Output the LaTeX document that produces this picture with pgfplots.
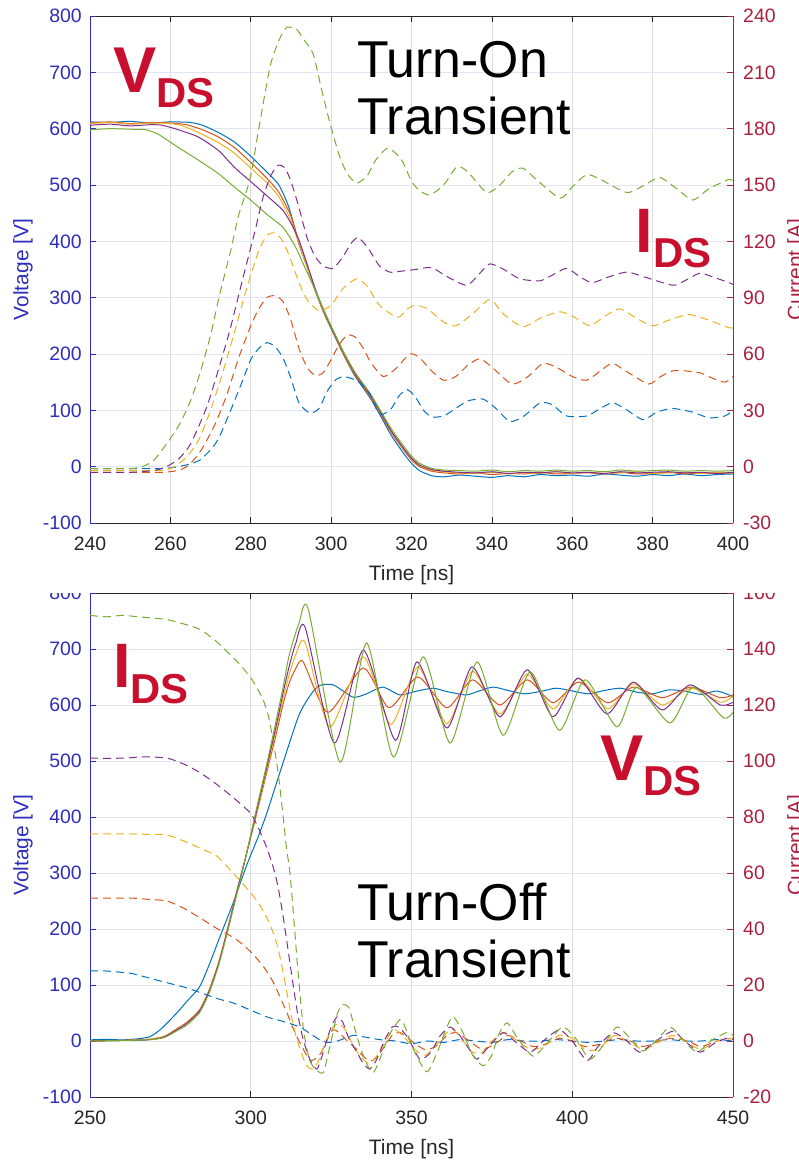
\documentclass[border=0pt]{standalone}
\usepackage{fontspec}
\setmainfont{Liberation Sans}
\usepackage{pgfplots}
\pgfplotsset{compat=1.18}
\definecolor{vblue}{RGB}{45,45,190}
\definecolor{ired}{RGB}{172,32,62}
\definecolor{mblue}{RGB}{0,114,189}
\definecolor{morange}{RGB}{217,83,25}
\definecolor{myellow}{RGB}{237,177,32}
\definecolor{mpurple}{RGB}{126,47,142}
\definecolor{mgreen}{RGB}{119,172,48}
\definecolor{anno}{RGB}{200,16,46}
\definecolor{axgray}{RGB}{38,38,38}
\newcommand\tfont{\fontsize{19.5}{20}\selectfont}
\newcommand\lfont{\fontsize{21}{22}\selectfont}
\newcommand\bigV{\fontsize{65}{65}\selectfont\bfseries}
\newcommand\subDS{\fontsize{42}{42}\selectfont\bfseries}
\newcommand\ttl{\fontsize{52}{52}\selectfont}

\pgfplotsset{
  xpanel/.style={scale only axis, anchor=south west,
    axis x line*=box, axis y line=none, ytick=\empty,
    xmajorgrids, major grid style={draw=black!13, line width=0.6bp},
    tick style={draw=axgray, line width=0.6bp}, major tick length=6bp,
    x axis line style={draw=axgray, line width=0.7bp},
    xticklabel style={text=axgray, font=\tfont, inner sep=0pt, anchor=north, yshift=-14bp},
    xlabel style={text=axgray, font=\lfont, inner sep=0pt, anchor=north,
      at={([yshift=-42bp]axis description cs:0.5,0)}}},
  lpanel/.style={scale only axis, anchor=south west,
    axis x line=none, axis y line*=left, xtick=\empty,
    ymajorgrids, major grid style={draw=vblue!13, line width=0.6bp},
    extra y tick style={grid=none},
    tick style={draw=vblue, line width=0.6bp}, major tick length=6bp,
    y axis line style={draw=vblue, line width=0.8bp},
    yticklabel style={text=vblue, font=\tfont, inner sep=0pt, anchor=east, xshift=-8bp},
    ylabel style={text=vblue, font=\lfont, inner sep=0pt, anchor=north,
      at={([xshift=-77bp]axis description cs:0,0.5)}},
    ymin=-100, ymax=800, ytick={0,100,200,300,400,500,600,700},
    yticklabels={0,100,200,300,400,500,600,700},
    extra y ticks={-100,800}, extra y tick labels={-100,800},
    ylabel={Voltage [V]}},
  rpanel/.style={scale only axis, anchor=south west,
    axis x line=none, axis y line*=right, xtick=\empty,
    tick style={draw=ired, line width=0.6bp}, major tick length=6bp,
    y axis line style={draw=ired, line width=0.8bp},
    yticklabel style={text=ired, font=\tfont, inner sep=0pt, anchor=west, xshift=10bp},
    ylabel style={text=ired, font=\lfont, inner sep=0pt, anchor=north,
      at={([xshift=54bp]axis description cs:1,0.5)}},
    ylabel={Current [A]}},
  vs/.style={line width=1.0bp, smooth, tension=0.4},
  cs/.style={line width=1.0bp, smooth, tension=0.4, dash pattern=on 8bp off 5bp},
}

\begin{document}
\begin{tikzpicture}
\path[use as bounding box] (0,0) rectangle (799bp,1161bp);

% ===================== TOP: turn-on =====================
\begin{axis}[xpanel, at={(90bp,638bp)}, width=643bp, height=507bp,
  xmin=240, xmax=400, ymin=-100, ymax=800,
  xtick={240,260,280,300,320,340,360,380,400},
  xticklabels={240,260,280,300,320,340,360,380,400},
  xlabel={Time [ns]}]
\end{axis}

\begin{axis}[lpanel, at={(90bp,638bp)}, width=643bp, height=507bp,
  xmin=240, xmax=400]
\addplot[vs, mblue] coordinates {(240,612)(245,611)(250,613)(255,610)(260,612)(265,611)(268,606)(272,593)(276,576)(280,551)(284,523)(287,500)(289.5,460)(292,395)(294,355)(296,313)(298,276)(300,245)(303,200)(306,160)(309.7,122)(312,94)(315,55)(318,24)(320,6)(322,-7)(325,-16)(328,-18)(332,-15)(336,-17)(340,-19)(344,-16)(348,-18)(352,-14)(356,-16)(360,-15)(364,-17)(368,-13)(372,-15)(376,-17)(380,-14)(384,-16)(388,-13)(392,-16)(396,-14)(400,-13)};
\addplot[vs, morange] coordinates {(240,610)(245,612)(250,609)(255,611)(260,610)(264,607)(268,598)(272,585)(276,566)(280,540)(284,512)(287,487)(290,445)(292,398)(294,356)(296,314)(298,277)(300,246)(303,201)(306,162)(309.7,124)(312,97)(315,60)(318,30)(320,12)(322,0)(325,-8)(328,-11)(332,-13)(336,-11)(340,-14)(344,-12)(348,-13)(352,-10)(356,-13)(360,-12)(364,-11)(368,-13)(372,-10)(376,-13)(380,-12)(384,-10)(388,-13)(392,-11)(396,-12)(400,-11)};
\addplot[vs, myellow] coordinates {(240,609)(245,611)(250,608)(255,610)(260,609)(263,605)(267,593)(272,575)(276,556)(280,530)(284,504)(287,479)(290,437)(292,396)(294,355)(296,314)(298,278)(300,247)(303,203)(306,164)(309.7,126)(312,99)(315,62)(318,32)(320,14)(322,2)(325,-6)(328,-9)(332,-11)(336,-12)(340,-10)(344,-13)(348,-11)(352,-12)(356,-9)(360,-12)(364,-10)(368,-12)(372,-11)(376,-9)(380,-12)(384,-11)(388,-10)(392,-12)(396,-10)(400,-11)};
\addplot[vs, mpurple] coordinates {(240,606)(245,608)(250,605)(255,607)(258,606)(262,598)(267,585)(272,561)(276,531)(280,506)(284,481)(288,455)(290,432)(292,402)(294,360)(296,317)(298,280)(300,248)(303,204)(306,165)(309.7,127)(312,100)(315,63)(318,33)(320,15)(322,3)(325,-5)(328,-8)(332,-10)(336,-11)(340,-9)(344,-12)(348,-10)(352,-11)(356,-9)(360,-11)(364,-10)(368,-12)(372,-9)(376,-11)(380,-10)(384,-9)(388,-11)(392,-10)(396,-12)(400,-10)};
\addplot[vs, mgreen] coordinates {(240,598)(245,600)(250,599)(254,598)(257,590)(260,576)(263,562)(267,544)(272,520)(276,496)(280,473)(284,448)(288,425)(291,392)(293,361)(296,314)(298,281)(300,250)(303,205)(306,167)(309.7,130)(312,103)(315,67)(318,37)(320,19)(322,6)(325,-3)(328,-6)(332,-7)(336,-8)(340,-6)(344,-9)(348,-7)(352,-8)(356,-6)(360,-8)(364,-7)(368,-9)(372,-6)(376,-8)(380,-7)(384,-6)(388,-8)(392,-7)(396,-8)(400,-7)};
\node[anchor=base west, inner sep=0pt, text=anno, font=\bigV] at (axis cs:245.7,665) {V\raisebox{-15bp}{\subDS DS}};
\node[anchor=base west, inner sep=0pt, text=anno, font=\fontsize{63}{63}\selectfont\bfseries] at (axis cs:375.8,381) {I\raisebox{-15bp}{\subDS DS}};
\node[anchor=base west, inner sep=0pt, font=\ttl] at (axis cs:306.4,690) {Turn-On};
\node[anchor=base west, inner sep=0pt, font=\ttl] at (axis cs:306.4,589) {Transient};
\end{axis}

\begin{axis}[rpanel, at={(90bp,638bp)}, width=643bp, height=507bp,
  xmin=240, xmax=400, ymin=-30, ymax=240,
  ytick={-30,0,30,60,90,120,150,180,210,240},
  yticklabels={-30,0,30,60,90,120,150,180,210,240}]
\addplot[cs, mblue] coordinates {(240,-1)(250,-1)(258,-1)(262,0)(265,1.5)(267.4,3.6)(270,9)(272,15)(275,30)(278,46)(280,57)(282,63)(284,66)(286,64)(288,58)(290,47)(292,34)(294.7,28.5)(297,31)(299,40)(301,46)(303,48)(305,47)(307,45)(309.6,39)(311.6,29)(313,28)(315,31)(317,38)(319,41)(321,37)(323,30)(325,26.5)(328,27)(331,31)(334,35)(337.8,36)(341,31)(344.5,24)(348,27)(352,34)(355,33)(358.6,27)(363.6,27)(367,31)(370,34)(373,31)(377.6,25)(381,29)(385,31)(390,29)(394,26)(398,27)(400,30)};
\addplot[cs, morange] coordinates {(240,-3)(250,-3)(258,-3)(262,-2)(264,0)(266,4)(268,10)(271,22)(274,38)(277,58)(280,75)(282,84)(284,90)(286,91)(288,88)(290,78)(292,63)(294,53)(296,48.6)(298,50)(300,57)(302,65)(304,70)(306,69)(308,63)(310,55)(313,48)(316,52)(319.6,60)(322,58)(325,51)(328,46)(331,48)(334,54)(337,57.5)(340,53)(345,44)(349,48)(352.7,55)(356,53)(360,48)(363.6,46)(367,51)(370,55)(374,50)(379,44)(382,48)(385,51)(388,51)(391.7,50)(395,47)(398,45)(400,48)};
\addplot[cs, myellow] coordinates {(240,-2)(250,-2)(258,-2)(261,0)(264,5)(267,14)(270,30)(273,50)(276,72)(279,95)(282,115)(284,123)(286,124.5)(288,120)(290,110)(292,98)(294,89)(297,83)(300,86)(303,95)(306.4,100)(309,96)(312,86)(316.5,79.5)(319,84)(321,86)(324,84)(328,77)(331,75)(335,81)(339.5,89)(343,81)(347.7,74.5)(352,79)(357,82.5)(361,79)(364.4,75)(368,80)(371.8,84)(376,79)(380,75)(384,78)(389,81)(394,78)(399,74)(400,74)};
\addplot[cs, mpurple] coordinates {(240,-3)(250,-3)(256,-2)(259,0)(262,4)(265,12)(269,31.5)(272,52)(274.8,72.7)(278,100)(281,125)(283,143)(285,155)(286.8,160.5)(288.5,159)(290,152)(292,138)(294,122)(296,112)(298,107)(300.5,105.6)(303,112)(305,119)(306.7,122)(309,117)(312,107)(314.6,103.6)(317,104)(321,105)(325,106)(329,101)(333.8,96.6)(337,103)(339.5,108)(343,105)(347,100)(352,99)(355,102)(358.6,105.6)(362,101)(365,98)(369,101)(373.6,103.6)(378,101)(385,96.6)(388,99)(391.7,103)(395,101)(399,98)(400,97)};
\addplot[cs, mgreen] coordinates {(240,-1)(250,-1)(253,0)(255.7,3)(258,9)(260,15)(262.4,23)(265,35)(267.4,50)(270,70)(272.3,92)(275,115)(277,134)(279.8,153)(282,180)(284.8,213)(287,227)(289,234)(291.5,232.6)(293,228)(295.5,220)(297.5,202)(299.7,183)(302,166)(304,156)(306.4,151)(309,155)(311,163)(313.9,169.5)(316,167)(317.9,162)(320,152)(322,147)(324.6,144.7)(328,150)(331.3,159.7)(334,157)(338.7,146)(342,150)(345,157)(347.7,159)(351,153)(357,143)(360,149)(363.6,155.5)(367,153)(373.6,146)(378,150)(381.8,154)(386,148)(390,142)(394,148)(399,153)(400,152)};
\end{axis}

% ===================== BOTTOM: turn-off =====================
\begin{axis}[xpanel, at={(90bp,64bp)}, width=643bp, height=504bp,
  xmin=250, xmax=450, ymin=-100, ymax=800,
  xtick={250,300,350,400,450},
  xticklabels={250,300,350,400,450},
  xlabel={Time [ns]}]
\end{axis}

\begin{axis}[lpanel, at={(90bp,64bp)}, width=643bp, height=504bp,
  xmin=250, xmax=450]
\addplot[vs, mblue] coordinates {(250,2)(255,3)(260,2)(265,4)(268.7,8)(272,21)(277,50)(280,70)(284,96)(287,135)(290.4,186)(294.5,246)(298.8,315)(302,360)(305,407)(310,496)(315.3,586)(320.6,632)(325.6,636)(331.8,614)(336,620)(341,632)(346.4,618)(351,624)(356.7,630)(361,624)(367,618)(371,625)(375.4,632)(380,626)(385,620)(390,624)(395,630)(400,625)(405,620)(410,626)(415,630)(420,623)(425,620)(430,627)(435,625)(440,619)(445,625)(450,615)};
\addplot[vs, morange] coordinates {(250,0)(260,1)(268,3)(273,8)(277,22)(280,33)(284,55)(287,90)(290,140)(293,205)(296,275)(298.5,330)(302,410)(305,480)(308,550)(310,600)(312,640)(314,665)(316.3,677)(324,587)(335,666)(343,595)(352,650)(361,595)(369,645)(377.5,600)(386,645)(394,604)(402,641)(411,604)(419,632)(428,613)(437,632)(446,613)(450,618)};
\addplot[vs, myellow] coordinates {(250,0)(260,1)(268,3)(273,8)(277,21)(280,32)(284,54)(287,89)(290,139)(293,204)(296,275)(298.5,330)(302,412)(305,485)(308,560)(310,610)(312,655)(314,690)(316.9,712)(324.6,561)(335,686)(343.5,565)(352,668)(361,567)(369,660)(377.5,584)(386,655)(394,593)(402,648)(411,593)(419,638)(428,600)(437,630)(446,605)(450,615)};
\addplot[vs, mpurple] coordinates {(250,0)(260,1)(268,2)(273,7)(277,20)(280,31)(284,53)(287,88)(290,138)(293,203)(296,274)(298.5,330)(302,415)(305,490)(308,565)(310,620)(312,670)(314,710)(316.9,739)(326,532)(335,698)(345,537)(351.7,677)(361,559)(368.8,668)(377.5,579)(386,663)(394,579)(401.8,648)(410.8,584)(419,641)(428,591)(436.6,636)(446,600)(450,605)};
\addplot[vs, mgreen] coordinates {(250,0)(260,1)(268,2)(273,6)(277,18)(280,28)(284,50)(287,85)(290,135)(293,200)(296,270)(298.5,330)(302,420)(305,495)(308,575)(310,630)(312,690)(315,746)(317.9,771)(327.8,498)(336,711)(344.4,507)(353.6,686)(362,532)(370.4,677)(378.5,546)(386.9,659)(396,555)(404,645)(413.9,561)(420,632)(430.4,568)(437.6,632)(447,577)(450,587)};
\node[anchor=base west, inner sep=0pt, text=anno, font=\fontsize{63}{63}\selectfont\bfseries] at (axis cs:257.2,632) {I\raisebox{-16bp}{\subDS DS}};
\node[anchor=base west, inner sep=0pt, text=anno, font=\bigV] at (axis cs:408.6,466) {V\raisebox{-15bp}{\subDS DS}};
\node[anchor=base west, inner sep=0pt, font=\ttl] at (axis cs:333,216) {Turn-Off};
\node[anchor=base west, inner sep=0pt, font=\ttl] at (axis cs:333,114) {Transient};
\end{axis}

\begin{axis}[rpanel, at={(90bp,64bp)}, width=643bp, height=504bp,
  xmin=250, xmax=450, ymin=-20, ymax=160,
  ytick={-20,0,20,40,60,80,100,120,140,160},
  yticklabels={-20,0,20,40,60,80,100,120,140,160}]
\addplot[cs, mblue] coordinates {(250,25)(255,25)(260,24.5)(263.4,24)(270,22)(275,20.5)(280,19)(285,17)(290,15)(294.5,13.6)(300,11)(305,8.6)(310,7)(315.3,5)(318,3)(321.5,0.4)(324,-0.5)(327,0)(331.8,2)(335,1.5)(340,0.5)(345,0)(350,-1)(355,0)(360,-0.5)(365,0.5)(370,0)(375,-0.5)(380,0.5)(385,0)(390,0)(395,0.5)(400,0)(405,-0.5)(410,0)(415,0.5)(420,0)(425,0)(430,0.5)(435,0)(440,0)(445,0.5)(450,0)};
\addplot[cs, morange] coordinates {(250,51)(255,51)(263.4,51)(268,50.6)(274,50)(279,47.5)(284.2,44)(289,40.5)(294.5,37)(297.5,34.5)(300.7,31)(304,26.5)(307,21)(309,16)(311.3,10)(313,5)(314.4,1.4)(316.4,-3)(318.4,-7)(320.5,-6)(322,-4)(324,1)(325.6,4)(327.5,3)(330,0)(333,-3)(335.5,-6)(338,-7)(341,-3)(344,2)(346.5,3)(350,0)(354,-3)(357.5,-2)(361,2)(364,3)(368,0)(372,-3)(376,-1)(380,2)(384,0)(388,-2)(392,-1)(396,1)(400,0)(404,-2)(409,-1)(413,1)(418,0)(422,-2)(427,0)(431,1)(436,0)(440,-2)(445,0)(450,1)};
\addplot[cs, myellow] coordinates {(250,74)(260,74)(268,73.8)(274,73.6)(280,71)(285,68.5)(289.5,66)(294.5,60)(298,55.5)(302,50)(305,44)(307,38.6)(308.5,33)(310,25)(311.3,17)(312.8,8)(314.4,0.4)(316,-5)(317.5,-9)(319.5,-10)(321.5,-6)(323,-1)(324.6,3)(326,5.5)(327.8,6)(330,3)(332,-2)(334.5,-6)(337,-8)(340,-4)(343,2)(345,4)(348,1)(352,-4)(354.5,-5)(358,-1)(361,3)(363,4)(366,0)(369,-4)(372,-4)(375,0)(379,3)(383,0)(387,-3)(391,-2)(396,2)(400,1)(404,-3)(408,-3)(413,2)(417,0)(422,-3)(426,-1)(431,2)(435,0)(440,-3)(445,0)(450,1)};
\addplot[cs, mpurple] coordinates {(250,101)(260,101)(267,101.5)(274,101)(279,99)(284,96)(289,92)(294.5,87)(299.8,81.5)(302,77)(305,69)(307,62)(308.5,55)(310,45)(311.3,35)(312.8,23)(314.4,11)(316,2)(317.5,-4)(319,-8)(320.6,-10)(322,-6)(323.7,0.4)(325,5)(326.8,8.6)(328.5,7)(330.5,1)(333,-4)(335,-8)(337,-10)(339,-7)(341.5,0)(344,5)(346,5)(349,1)(352.6,-6.5)(356,-4)(359,2)(362,5)(365,2)(368,-3)(370.4,-6.5)(374,-2)(378.5,3)(382,0)(386.9,-4)(391,0)(396,4)(400,0)(404.6,-7)(408,-2)(412.7,3)(417,0)(421,-4)(426,0)(431.3,3.5)(435,0)(439.7,-4)(444,-1)(448,1)(450,0.5)};
\addplot[cs, mgreen] coordinates {(250,152)(255,151.5)(260,152)(265,151.5)(270,151)(274,150.5)(279,149)(284.2,147)(289,143)(294.5,137)(297,134)(299.8,130)(301.5,127)(303.8,122)(305.5,116)(307,107)(308.5,96)(310,81)(311,70)(312.2,60)(313.3,45)(314.4,29)(315.3,17)(316.3,5)(317.3,-2)(318.4,-7)(320,-10)(322.5,-11.4)(324,-5)(325.6,3)(327,10)(328.7,13)(330.5,12)(332,6)(334,-2)(336,-8)(338,-11.4)(340,-7)(343,2)(346.4,7.6)(348,5)(351,-4)(354.8,-11)(358,-4)(361,5)(363,8.7)(366,3)(369,-5)(372.3,-8.9)(375,-5)(377,2)(379.7,6.5)(383,1)(387.8,-5.4)(392,-1)(397,5)(401,1)(405.5,-6.5)(410,-1)(413.9,5)(418,1)(422,-3.6)(426,0)(430.4,5)(434,1)(438.8,-4)(443,0)(448,3)(450,2)};
\end{axis}

% the lower panel is cropped just at its top edge, as in the source figure
\fill[white] (0,567.6bp) rectangle (799bp,575.5bp);
\end{tikzpicture}
\end{document}
